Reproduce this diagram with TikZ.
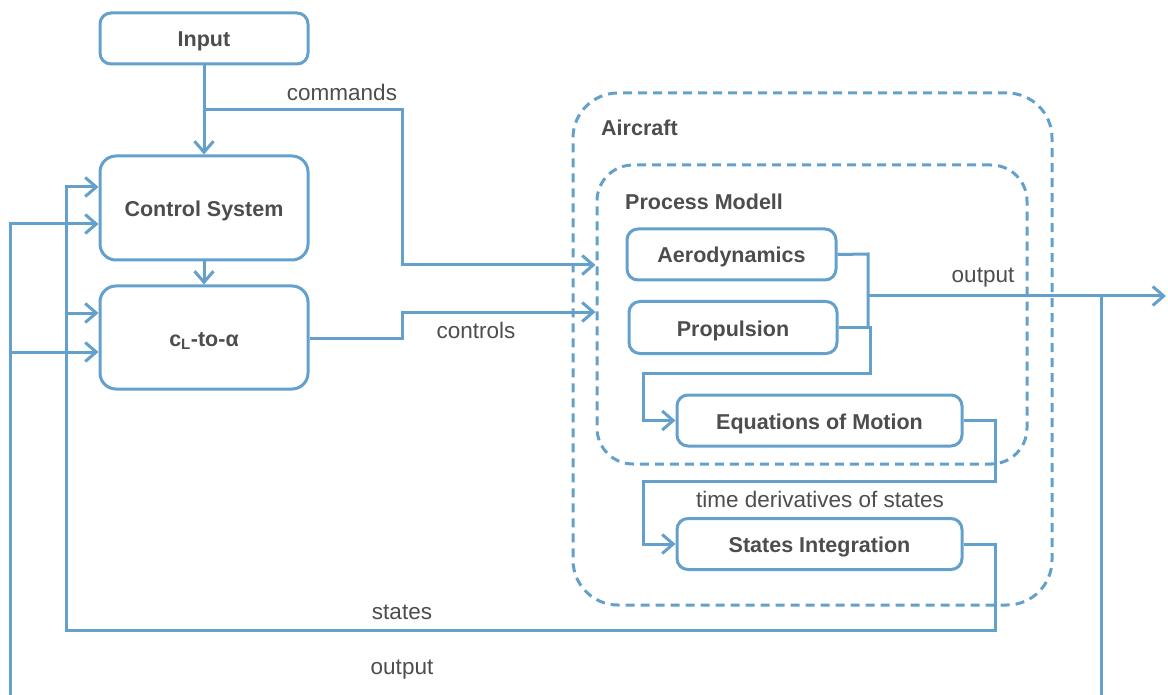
\documentclass[tikz,border=0pt]{standalone}
\usepackage{fontspec}
\setmainfont{Liberation Sans}
\usetikzlibrary{arrows.meta}
\definecolor{flow}{HTML}{64A0CC}
\definecolor{ink}{HTML}{4D4D4D}
\begin{document}
\begin{tikzpicture}[x=1pt,y=-1pt,
  every node/.style={text=ink},
  block/.style={draw=flow, line width=3pt, rounded corners=11pt, fill=white,
    font=\fontsize{21.5}{24}\selectfont\bfseries, inner sep=0pt,
    text height=17pt, text depth=0pt},
  group/.style={draw=flow, line width=3pt, dash pattern=on 9pt off 6pt, inner sep=0pt},
  wire/.style={draw=flow, line width=3pt},
  arr/.style={wire, -{Straight Barb[length=11pt,width=19pt,line width=3pt]}},
  lbl/.style={font=\fontsize{22.5}{24}\selectfont, inner sep=0pt},
  title/.style={font=\fontsize{21.5}{24}\selectfont\bfseries, inner sep=0pt, anchor=west}]
\clip (0,0) rectangle (1168,695);
\fill[white] (0,0) rectangle (1168,695);

% containers
\node[group, rounded corners=45pt, minimum width=479pt, minimum height=512pt] (air) at (812.5,349) {};
\node[group, rounded corners=36pt, minimum width=430pt, minimum height=299pt] (pm) at (812,314.5) {};
\node[title] (airt) at (601,128) {Aircraft};
\node[title] (pmt) at (625,202) {Process Modell};

% blocks
\node[block, minimum width=208pt, minimum height=51pt] (in) at (204,38.5) {Input};
\node[block, rounded corners=16pt, minimum width=208pt, minimum height=104pt] (cs) at (204,208) {Control System};
\node[block, rounded corners=16pt, minimum width=208pt, minimum height=103pt] (cl) at (204,337.5) {c\textsubscript{L}-to-α};
\node[block, minimum width=209pt, minimum height=51pt] (aero) at (731.5,254.5) {Aerodynamics};
\node[block, minimum width=208pt, minimum height=52pt] (prop) at (733,327.5) {Propulsion};
\node[block, minimum width=285pt, minimum height=51pt] (eom) at (819.5,420.5) {Equations of Motion};
\node[block, minimum width=285pt, minimum height=51pt] (si) at (819.5,544) {States Integration};

% free ends and junctions
\coordinate (cmd) at (204,110);
\coordinate (out) at (868,296);
\coordinate (tap) at (1101,296);
\coordinate (fbs) at (66,313);
\coordinate (fbo) at (10,352);
\coordinate (sink) at (1166,296);

% signal paths
\draw[arr] (in.south) -- (cs.north);
\draw[arr] (cs.south) -- (cl.north);
\draw[arr] (cmd) -- (402,110) -- (402,265) -- (pm.west |- 0,265);
\draw[arr] (cl.east |- 0,338) -- (402,338) -- (402,312) -- (pm.west |- 0,312);
\draw[wire] (aero.east) -- (868,254) -- (868,327);
\draw[arr] (out) -- (sink);
\draw[arr] (prop.east) -- (870,327.5) -- (870,373) -- (643,373) -- (643,420.5) -- (eom.west);
\draw[arr] (eom.east) -- (995,420.5) -- (995,481) -- (643,481) -- (643,544) -- (si.west);
\draw[arr] (si.east) -- (995,544) -- (995,630) -- (66,630) -- (66,187) -- (cs.west |- 0,187);
\draw[arr] (fbs) -- (cl.west |- fbs);
\draw[arr] (tap) -- (1101,706) -- (10,706) -- (10,224) -- (cs.west |- 0,224);
\draw[arr] (fbo) -- (cl.west |- fbo);

% signal names
\node[lbl] (l1) at (342,92) {commands};
\node[lbl] (l2) at (476,330) {controls};
\node[lbl] (l3) at (983,278) {output};
\node[lbl] (l4) at (820,499) {time derivatives of states};
\node[lbl] (l5) at (402,612) {states};
\node[lbl] (l6) at (402,670) {output};
\end{tikzpicture}
\end{document}
